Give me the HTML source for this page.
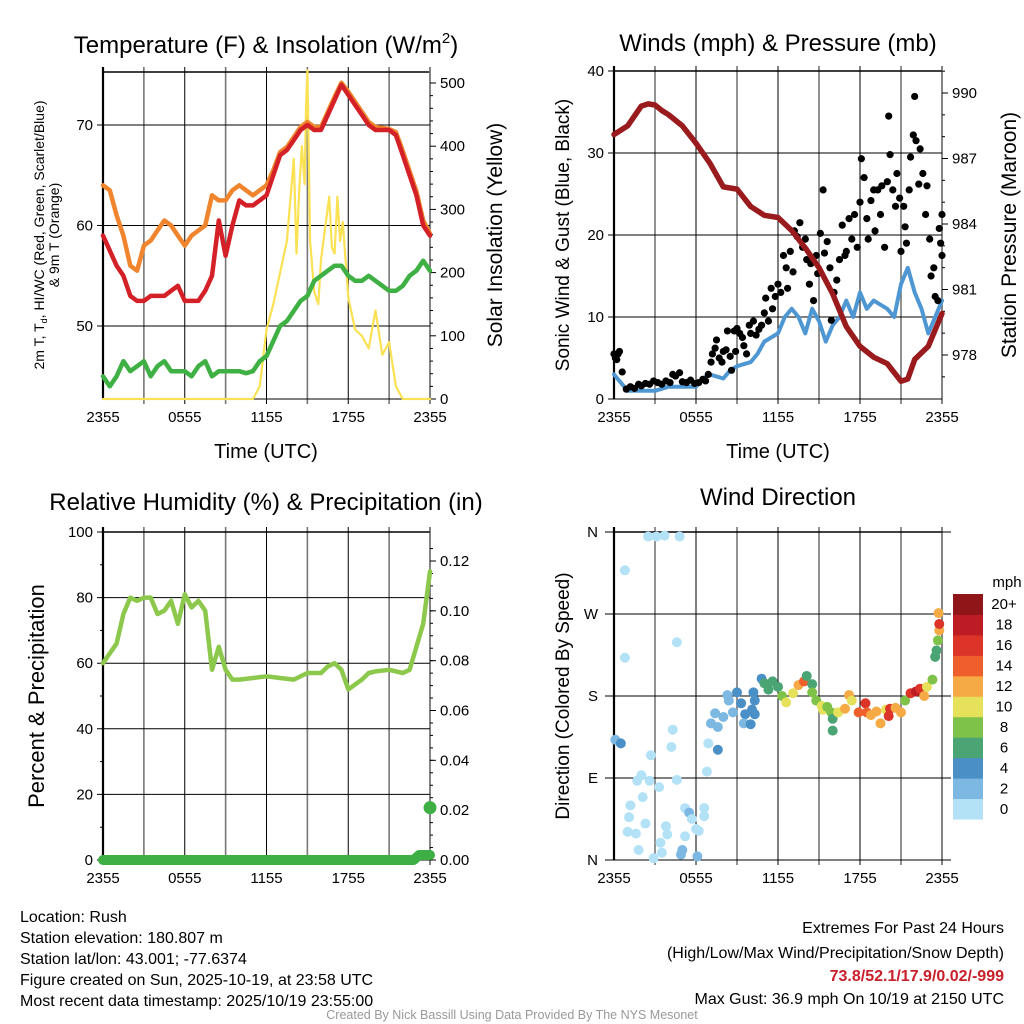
<!DOCTYPE html>
<html><head><meta charset="utf-8">
<style>
html,body{margin:0;padding:0;background:#fff;}
svg{display:block;font-family:"Liberation Sans",Arial,sans-serif;}
</style></head>
<body>
<svg id="fig" width="1024" height="1024" viewBox="0 0 1024 1024" xmlns="http://www.w3.org/2000/svg">
<rect width="1024" height="1024" fill="#fff"/>
<!-- titles -->
<text x="266" y="53" font-size="24" text-anchor="middle">Temperature (F) &amp; Insolation (W/m<tspan font-size="15" dy="-10">2</tspan><tspan dy="10">)</tspan></text>
<text x="778" y="51" font-size="24" text-anchor="middle">Winds (mph) &amp; Pressure (mb)</text>
<text x="266" y="510" font-size="24" text-anchor="middle">Relative Humidity (%) &amp; Precipitation (in)</text>
<text x="778" y="505" font-size="24" text-anchor="middle">Wind Direction</text>
<!-- axis titles -->
<text x="266" y="458" font-size="20" text-anchor="middle">Time (UTC)</text>
<text x="778" y="458" font-size="20" text-anchor="middle">Time (UTC)</text>
<g transform="translate(44,235) rotate(-90)" font-size="14" text-anchor="middle">
<text x="0" y="0">2m T, T<tspan font-size="9" dy="3">d</tspan><tspan dy="-3">, HI/WC (Red, Green, Scarlet/Blue)</tspan></text>
<text x="0" y="15">&amp; 9m T (Orange)</text>
</g>
<text transform="translate(502,235) rotate(-90)" font-size="21" text-anchor="middle">Solar Insolation (Yellow)</text>
<text transform="translate(569,235) rotate(-90)" font-size="19" text-anchor="middle">Sonic Wind &amp; Gust (Blue, Black)</text>
<text transform="translate(1016,235) rotate(-90)" font-size="21" text-anchor="middle">Station Pressure (Maroon)</text>
<text transform="translate(44,696) rotate(-90)" font-size="22" text-anchor="middle">Percent &amp; Precipitation</text>
<text transform="translate(569,696) rotate(-90)" font-size="19" text-anchor="middle">Direction (Colored By Speed)</text>
<!-- footer -->
<g font-size="16">
<text x="20" y="922">Location: Rush</text>
<text x="20" y="943">Station elevation: 180.807 m</text>
<text x="20" y="964">Station lat/lon: 43.001; -77.6374</text>
<text x="20" y="985">Figure created on Sun, 2025-10-19, at 23:58 UTC</text>
<text x="20" y="1006">Most recent data timestamp: 2025/10/19 23:55:00</text>
</g>
<g font-size="16" text-anchor="end">
<text x="1004" y="933">Extremes For Past 24 Hours</text>
<text x="1004" y="958">(High/Low/Max Wind/Precipitation/Snow Depth)</text>
<text x="1004" y="981" fill="#c8202a" font-weight="bold">73.8/52.1/17.9/0.02/-999</text>
<text x="1004" y="1004">Max Gust: 36.9 mph On 10/19 at 2150 UTC</text>
</g>
<text x="512" y="1019" font-size="12.5" fill="#999" text-anchor="middle">Created By Nick Bassill Using Data Provided By The NYS Mesonet</text>
<g id="plots"></g>
</svg>
<script>
// ---------- data ----------
const tempT = [0,0.5,1,1.5,2,2.5,3,3.5,4,4.5,5,5.5,6,6.5,7,7.5,8,8.5,9,9.5,10,10.5,11,11.5,12,12.5,13,13.5,14,14.5,15,15.5,16,16.5,17,17.5,18,18.5,19,19.5,20,20.5,21,21.5,22,22.5,23,23.5,24];
const tempRed = [59,57.5,56,55,53,52.5,52.5,53,53,53,53.5,54,52.5,52.5,52.5,53.5,55,60.5,57,60,62.5,62,62,62.5,63,65,67,67.5,68.5,69.5,70,69.5,69.5,71,72.5,74,73,72,71,70,69.5,69.5,69.5,69,67,65,63,60,59];
const tempOrange = [64,63.5,61,59,56,55.5,58,58.5,59.5,60.5,60,59,58,59,59.5,60,63,62.5,62.5,63.5,64,63.5,63,63.5,64,65.5,67.3,67.8,68.8,69.8,70.3,69.8,69.8,71.3,72.8,74.2,73.3,72.3,71.3,70.3,69.8,69.7,69.6,69.3,67.4,65.4,63.4,60.5,59.2];
const tempGreen = [45,44,45,46.5,45.5,46,46.5,45,46,46.5,45.5,45.5,45.5,45,46,46.5,45,45.5,45.5,45.5,45.5,45.3,45.5,46.5,47,48.5,50,50.5,51.5,52.5,53,54.5,55,55.5,56,56,55,54.5,54.5,55,54.5,54,53.5,53.5,54,55,55.5,56.5,55.5];
const solarT = [0,11,11.5,12,12.5,13,13.5,14,14.2,14.4,14.6,14.8,14.9,15.0,15.2,15.5,15.8,16,16.3,16.6,16.8,17,17.2,17.4,17.6,18,18.5,19,19.5,20,20.5,21,21.5,22,24];
const solarV = [0,0,20,110,150,200,250,380,230,330,400,340,460,520,250,170,150,220,270,320,240,230,320,250,280,160,110,100,80,140,70,90,20,0,0];
const presT = [0,1,2,2.5,3,3.5,4,5,6,7,8,9,10,11,12,13,14,15,16,17,18,19,20,21,21.5,22,23,24];
const presV = [988.1,988.5,989.4,989.5,989.45,989.2,989.0,988.5,987.7,986.8,985.7,985.6,984.8,984.4,984.3,983.7,982.9,982.0,980.8,979.3,978.4,977.9,977.6,976.8,976.9,977.8,978.4,979.9];
const windT = [0,0.5,1,2,3,4,5,6,6.5,7,8,8.5,9,10,10.5,11,11.5,12,12.5,13,13.5,14,14.5,15,15.5,16,16.5,17,17.5,18,18.5,19,19.5,20,20.5,21,21.5,22,22.5,23,23.5,24];
const windV = [3,2,1,1,1,1.5,1.5,1.5,2.5,3,2.5,3.5,4,4.5,5.5,7,7.5,8,10,11,10,8,11,9.5,7,9,10,12,10,13,11,12,11.5,11,10,14,16,13,11,8,10,12];
const gustT = [0,0.1,0.2,0.3,0.4,0.6,0.9,1.2,1.5,1.8,2.0,2.3,2.6,2.9,3.2,3.5,3.8,4.1,4.3,4.5,4.8,5.0,5.3,5.6,5.9,6.2,6.5,6.7,6.9,7.1,7.2,7.4,7.5,7.7,7.9,8.0,8.2,8.3,8.5,8.6,8.8,8.9,9.0,9.2,9.4,9.5,9.7,9.9,10.0,10.2,10.4,10.6,10.8,11.0,11.1,11.3,11.5,11.6,11.8,12.0,12.2,12.4,12.6,12.7,12.9,13.1,13.2,13.4,13.6,13.8,14.0,14.1,14.3,14.4,14.6,14.8,14.9,15.1,15.3,15.4,15.6,15.8,15.9,16.1,16.3,16.5,16.7,16.9,17.0,17.2,17.4,17.6,17.8,18.0,18.1,18.3,18.5,18.6,18.8,19.0,19.1,19.3,19.5,19.6,19.8,20.0,20.1,20.2,20.4,20.6,20.7,20.9,21.0,21.2,21.3,21.4,21.6,21.7,21.9,22.0,22.1,22.3,22.4,22.6,22.8,22.9,23.1,23.2,23.4,23.5,23.7,23.8,23.9,24.0,24.0];
const gustV = [5.5,5,4.8,5.5,5.8,3.3,1.2,1.5,1.3,1.8,1.6,1.9,1.8,2.2,2.0,1.8,2.2,2.0,3.0,2.8,3.2,2.1,2.0,2.3,1.9,2.0,2.4,2.2,3.0,4.5,5.5,6.2,7.2,5.0,4.5,5.8,6.0,8.3,5.2,3.5,8.3,5.8,8.6,8.0,7.5,6.5,5.5,9.0,8.0,9.5,7.8,8.5,9.0,10.5,12.3,9.5,13.5,11.0,12.5,14.0,13.0,17.5,16.0,13.5,18.0,15.5,20.5,19.8,21.5,18.5,19.5,17.0,14.0,16.5,12.0,17.5,15.3,20.2,25.5,17.8,19.2,16.0,9.6,13.0,14.5,17.0,21.2,17.5,18.0,22.0,19.5,22.5,18.5,24.0,29.3,27.0,22.0,19.5,24.2,25.5,20.5,25.5,22.5,26.0,18.5,26.5,34.5,29.8,25.5,23.5,27.5,24.5,18.0,23.5,21.0,19.0,25.5,29.5,32.2,36.9,31.5,26.2,30.5,27.5,22.5,26.0,19.5,15.0,16.0,12.5,12.0,20.8,19.0,22.5,17.5];
const rhT = [0,0.5,1,1.5,2,2.5,3,3.5,4,4.5,5,5.5,6,6.5,7,7.5,8,8.5,9,9.5,10,11,12,13,14,15,16,16.5,17,17.5,18,19,19.5,20,21,22,22.5,23,23.5,24];
const rhV = [60,63,66,75,80,79,80,80,75,76,79,72,81,77,79,76,58,65,58,55,55,55.5,56,55.5,55,57,57,59,60,58,52,55,57,57.5,58,57,58,65,72,88];
const precipT = [0,2,4,6,8,10,12,14,16,18,20,22,22.8,23.2,23.6,24];
const precipV = [0,0,0,0,0,0,0,0,0,0,0,0,0,0.002,0.002,0.002];
const precipLastT = [24];
const precipLastV = [0.021];
const dirT = [0.1,0.5,0.8,0.8,2.5,3.1,3.7,4.8,4.6,4.3,4.2,2.7,2.0,1.7,2.6,3.3,2.1,1.2,1.1,1.0,1.6,2.3,1.8,2.9,3.5,3.4,3.8,3.9,4.6,5.2,5.5,5.7,6.0,6.2,6.6,6.6,5.0,4.9,6.1,5.2,6.8,6.9,7.1,7.4,7.6,7.6,8.0,8.3,8.4,8.7,9.0,9.3,9.6,9.5,10.0,10.1,10.3,10.2,10.3,10.8,11.0,11.3,11.6,12.0,12.3,12.6,13.1,13.5,13.9,14.1,14.5,14.5,14.8,15.2,15.3,15.6,15.9,16.0,16.0,16.4,16.9,17.2,17.4,17.9,18.4,18.5,18.8,19.2,19.5,19.9,20.1,20.2,20.6,21.0,21.3,21.7,22.1,22.4,22.7,22.9,23.3,23.5,23.6,23.7,23.8,23.8,23.75];
const dirV = [132,128,318,222,355,355,356,355,239,143,124,115,93,87,87,80,69,60,47,31,29,40,11,2,8,19,37,28,88,57,52,45,34,32,57,48,11,6,4,26,97,128,150,161,146,121,157,181,175,162,184,172,160,150,149,165,160,184,175,199,194,187,196,190,180,173,183,192,196,202,193,184,175,169,165,168,162,155,142,162,166,181,175,162,172,162,159,163,150,165,158,166,167,162,175,183,185,188,180,190,198,223,230,241,252,259,271];
const dirS = [3,4.5,1,1,0.5,0.5,0.5,0.5,1,1,1,1,1,1,1,1,1,1,1,1,1,1,1,1,1,1,1,1,1,1,2.5,1,1,1,1,1,2.5,2.5,2.5,1,1,1,2.5,3,3,4.5,3,3,3,3,4.5,4.5,4.5,3,5,4.5,5,5,4.5,5,6.5,7,6.5,7,8.5,10.5,10.5,13,14.5,7,7,8.5,8,10.5,11,9,8.5,6.5,7,10.5,13,13,11,14.5,16.5,14.5,13,13,13,11,16.5,16.5,13,13,8,17,18.5,17,13,11,9,7,6.5,9,13,17,13];
const speedLabels = ["0","2","4","6","8","10","12","14","16","18","20+"];
const speedColors = ["#b3e2f7","#7db8e2","#4a8fc6","#4aa473","#7fc24a","#e6e15b","#f5aa45","#ef5f2b","#dc3428","#bd1c24","#8f1519"];
const xTicks = ["2355","0555","1155","1755","2355"];

// ---------- helpers ----------
const NS = "http://www.w3.org/2000/svg";
const root = document.getElementById("plots");
function mk(tag, attrs, parent) {
  const e = document.createElementNS(NS, tag);
  for (const k in attrs) e.setAttribute(k, attrs[k]);
  (parent || root).appendChild(e);
  return e;
}
function lin(d0, d1, r0, r1) { return v => r0 + (v - d0) * (r1 - r0) / (d1 - d0); }

function frame(g, L, R, T, B, name) {
  const xs = lin(0, 24, L, R);
  for (let h = 3; h < 24; h += 3) {
    const gl = mk("line", {x1: xs(h), x2: xs(h), y1: T - 5, y2: B + 5, stroke: (h % 6 === 0) ? "#000" : "#777", "stroke-width": (h % 6 === 0) ? 1 : 1.6}, g);
    
    
  }
  const fr = mk("line", {x1: L, x2: R, y1: T, y2: T, stroke: "#000", "stroke-width": 1.5}, g);
  
  
  const lf = mk("line", {x1: L, x2: L, y1: T - 5, y2: B, stroke: "#000", "stroke-width": 2.2}, g);
  
  
  const rf = mk("line", {x1: R, x2: R, y1: T - 5, y2: B + 5, stroke: "#777", "stroke-width": 1.8}, g);
  
  
  const bf = mk("line", {x1: L, x2: R, y1: B, y2: B, stroke: "#000", "stroke-width": 1}, g);
  
  
  xTicks.forEach((lab, i) => {
    const t = mk("text", {x: xs(i * 6), y: B + 23, "font-size": 15, "text-anchor": "middle"}, g);
    t.textContent = lab;
    
    
  });
  return xs;
}
function hgrid(g, ys, vals, L, R, labels, side, name) {
  vals.forEach((v, i) => {
    if (side === "left") {
      const l = mk("line", {x1: L - 6, x2: R, y1: ys(v), y2: ys(v), stroke: "#000", "stroke-width": 1}, g);
      
      
      const t = mk("text", {x: L - 10, y: ys(v) + 5, "font-size": 15, "text-anchor": "end"}, g);
      t.textContent = labels[i];
      
      
    } else {
      const l = mk("line", {x1: R, x2: R + 6, y1: ys(v), y2: ys(v), stroke: "#000", "stroke-width": 1}, g);
      
      
      const t = mk("text", {x: R + 10, y: ys(v) + 5, "font-size": 15, "text-anchor": "start"}, g);
      t.textContent = labels[i];
      
      
    }
  });
}
function line(g, xs, ys, T, V, color, w, name) {
  const d = T.map((t, i) => (i ? "L" : "M") + xs(t).toFixed(1) + "," + ys(V[i]).toFixed(1)).join("");
  const p = mk("path", {d: d, fill: "none", stroke: color, "stroke-width": w, "stroke-linejoin": "round", "stroke-linecap": "round"}, g);
  
  
  return p;
}

// ---------- Panel 1: temperature ----------
{
  const g = mk("g", {});  
  const L = 103, R = 430, T = 72, B = 399;
  const xs = frame(g, L, R, T, B, "temperature");
  const ys = lin(50, 70, 326, 125);
  const ysr = lin(0, 500, 399, 83);
  hgrid(g, ys, [50, 60, 70], L, R, ["50", "60", "70"], "left", "temperature-y");
  hgrid(g, ysr, [0, 100, 200, 300, 400, 500], L, R, ["0", "100", "200", "300", "400", "500"], "right", "solar-y");
  for (let v = 20; v < 520; v += 20) { if (v % 100) { const m = mk("line", {x1: R, x2: R + 3, y1: ysr(v), y2: ysr(v), stroke: "#000"}, g);   } }
  line(g, xs, ysr, solarT, solarV, "#fbe154", 2.2, "solar-insolation-line");
  line(g, xs, ys, tempT, tempGreen, "#3fb043", 4.5, "dewpoint-line");
  line(g, xs, ys, tempT, tempOrange, "#f0852e", 4.5, "temperature-9m-line");
  line(g, xs, ys, tempT, tempRed, "#d42027", 4.5, "temperature-2m-line");
}
// ---------- Panel 2: winds ----------
{
  const g = mk("g", {});  
  const L = 614, R = 942, T = 71, B = 399;
  const xs = frame(g, L, R, T, B, "winds");
  const ys = lin(0, 40, 399, 71);
  const ysr = lin(978, 990, 355, 93);
  hgrid(g, ys, [0, 10, 20, 30, 40], L, R, ["0", "10", "20", "30", "40"], "left", "wind-y");
  hgrid(g, ysr, [978, 981, 984, 987, 990], L, R, ["978", "981", "984", "987", "990"], "right", "pressure-y");
  for (let v = 977; v <= 991; v++) { if ((v - 978) % 3) { const m = mk("line", {x1: R, x2: R + 3, y1: ysr(v), y2: ysr(v), stroke: "#000"}, g);   } }
  line(g, xs, ys, windT, windV, "#4f97d3", 4, "sonic-wind-line");
  gustT.forEach((t, i) => {
    const c = mk("circle", {cx: xs(t), cy: ys(gustV[i]), r: 3.6, fill: "#000"}, g);
    
    
  });
  line(g, xs, ysr, presT, presV, "#9a1b1e", 5.5, "station-pressure-line");
}
// ---------- Panel 3: humidity ----------
{
  const g = mk("g", {});  
  const L = 103, R = 430, T = 532, B = 860;
  const xs = frame(g, L, R, T, B, "humidity");
  const ys = lin(0, 100, 860, 532);
  const ysr = lin(0, 0.12, 860, 561);
  hgrid(g, ys, [0, 20, 40, 60, 80, 100], L, R, ["0", "20", "40", "60", "80", "100"], "left", "percent-y");
  hgrid(g, ysr, [0, 0.02, 0.04, 0.06, 0.08, 0.10, 0.12], L, R, ["0.00", "0.02", "0.04", "0.06", "0.08", "0.10", "0.12"], "right", "precip-y");
  for (let v = 0.005; v < 0.13; v += 0.005) { const m = mk("line", {x1: R, x2: R + 3, y1: ysr(v), y2: ysr(v), stroke: "#000"}, g);   }
  for (let v = 10; v < 100; v += 20) { const m = mk("line", {x1: L - 3, x2: L, y1: ys(v), y2: ys(v), stroke: "#000"}, g);   }
  line(g, xs, ys, rhT, rhV, "#8cc84b", 4.5, "relative-humidity-line");
  line(g, xs, ysr, precipT, precipV, "#3eaf45", 10, "precipitation-line");
  precipLastT.forEach((t, i) => {
    const c = mk("circle", {cx: xs(t), cy: ysr(precipLastV[i]), r: 6.5, fill: "#3eaf45"}, g);
    
    
  });
}
// ---------- Panel 4: direction ----------
{
  const g = mk("g", {});  
  const L = 614, R = 942, T = 532, B = 860;
  const xs = frame(g, L, R, T, B, "direction");
  const ys = lin(0, 360, 860, 532);
  ["N", "E", "S", "W", "N"].forEach((lab, i) => {
    const y = ys(i * 90);
    const l = mk("line", {x1: L - 9, x2: R + 9, y1: y, y2: y, stroke: "#000", "stroke-width": 1}, g);
    
    
    const t = mk("text", {x: L - 16, y: y + 5, "font-size": 15, "text-anchor": "end"}, g);
    t.textContent = lab;
    
    
  });
  dirT.forEach((t, i) => {
    const k = Math.min(10, Math.floor(dirS[i] / 2));
    const c = mk("circle", {cx: xs(t), cy: ys(dirV[i]), r: 5, fill: speedColors[k]}, g);
    
    
  });
  // colorbar
  const lg = mk("g", {});  
  const h = (819 - 594) / 11;
  speedColors.forEach((c, i) => {
    const y = 819 - (i + 1) * h;
    const r = mk("rect", {x: 953, y: y, width: 30, height: h + 0.5, fill: c}, lg);
    
    
    const t = mk("text", {x: 1004, y: y + h / 2 + 5, "font-size": 15, "text-anchor": "middle"}, lg);
    t.textContent = speedLabels[i];
    
    
  });
  const u = mk("text", {x: 1007, y: 587, "font-size": 15, "text-anchor": "middle"}, lg);
  u.textContent = "mph";
  
  
}
</script>
</body></html>
